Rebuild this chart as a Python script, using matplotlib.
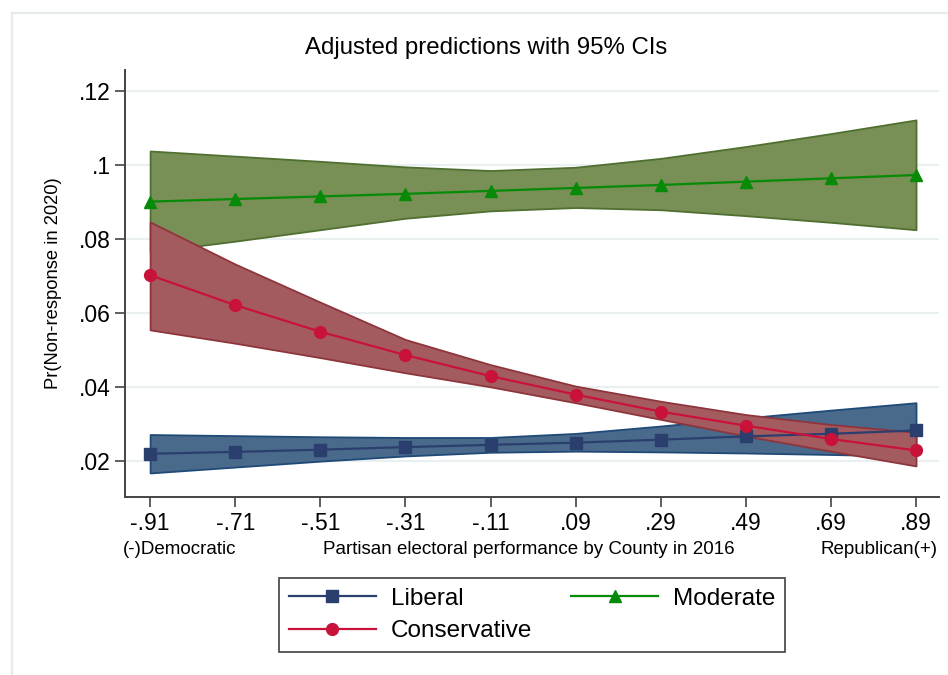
import matplotlib
matplotlib.use("Agg")
import matplotlib.pyplot as plt
from matplotlib.lines import Line2D
import numpy as np

plt.rcParams['font.family'] = ['Liberation Sans', 'DejaVu Sans']

# partisan performance values (x axis)
xVals = [-0.91, -0.71, -0.51, -0.31, -0.11, 0.09, 0.29, 0.49, 0.69, 0.89]
xLabels = ['-.91', '-.71', '-.51', '-.31', '-.11', '.09', '.29', '.49', '.69', '.89']

# predicted probabilities and 95% CIs
liberal = [0.0219, 0.0224, 0.0230, 0.0237, 0.0243, 0.0249, 0.0257, 0.0266, 0.0273, 0.0282]
liberalLo = [0.0167, 0.0183, 0.0199, 0.0213, 0.0223, 0.0226, 0.0224, 0.0221, 0.0217, 0.0212]
liberalHi = [0.0271, 0.0268, 0.0265, 0.0263, 0.0263, 0.0274, 0.0294, 0.0316, 0.0337, 0.0357]

moderate = [0.0901, 0.0908, 0.0915, 0.0922, 0.0930, 0.0938, 0.0946, 0.0955, 0.0964, 0.0973]
moderateLo = [0.0765, 0.0794, 0.0825, 0.0856, 0.0876, 0.0885, 0.0879, 0.0863, 0.0845, 0.0825]
moderateHi = [0.1038, 0.1024, 0.1010, 0.0995, 0.0985, 0.0994, 0.1018, 0.1050, 0.1085, 0.1122]

conservative = [0.0702, 0.0621, 0.0549, 0.0486, 0.0429, 0.0379, 0.0333, 0.0295, 0.0259, 0.0228]
conservativeLo = [0.0554, 0.0518, 0.0479, 0.0438, 0.0400, 0.0357, 0.0312, 0.0267, 0.0226, 0.0186]
conservativeHi = [0.0846, 0.0732, 0.0629, 0.0528, 0.0460, 0.0402, 0.0361, 0.0325, 0.0298, 0.0277]

yTicks = [0.02, 0.04, 0.06, 0.08, 0.10, 0.12]
yLabels = ['.02', '.04', '.06', '.08', '.1', '.12']

fig = plt.figure(figsize=(9.48, 6.75), dpi=100)
ax = fig.add_axes([125/948, 1-497/675, (939-125)/948, (497-70)/675])

# outer graph-region frame (light)
fig.add_artist(Line2D([12/948, 12/948], [0, 1-13/675], color='#e4ecee', lw=1.6))
fig.add_artist(Line2D([12/948, 1], [1-13/675, 1-13/675], color='#e4ecee', lw=1.6))

# CI areas first
ax.fill_between(xVals, liberalLo, liberalHi, facecolor='#4a6a8c', edgecolor='#1f4a78', lw=1.3, zorder=2)
ax.fill_between(xVals, moderateLo, moderateHi, facecolor='#788f55', edgecolor='#4f7030', lw=1.3, zorder=2)
ax.fill_between(xVals, conservativeLo, conservativeHi, facecolor='#a45b60', edgecolor='#8e353c', lw=1.3, zorder=2)

# prediction lines
ax.plot(xVals, liberal, '-s', color='#2b3f6e', ms=8, lw=1.6, zorder=3, label='Liberal')
ax.plot(xVals, conservative, '-o', color='#c8123a', ms=8.5, lw=1.6, zorder=3, label='Conservative')
ax.plot(xVals, moderate, '-^', color='#078a07', ms=8.5, lw=1.6, zorder=3, label='Moderate')

ax.set_xlim(-0.969, 0.944)
ax.set_ylim(0.0102, 0.1257)
ax.set_xticks(xVals)
ax.set_xticklabels(xLabels)
ax.set_yticks(yTicks)
ax.set_yticklabels(yLabels)
ax.tick_params(axis='both', direction='out', length=7, width=1.1, labelsize=16.5, color='#333333')
ax.tick_params(axis='y', pad=3)
ax.tick_params(axis='x', pad=4)
ax.grid(axis='y', color='#e8f0f2', lw=1.5, zorder=0)
ax.set_axisbelow(True)

for s in ['top', 'right']:
    ax.spines[s].set_visible(False)
for s in ['left', 'bottom']:
    ax.spines[s].set_color('#444444')
    ax.spines[s].set_linewidth(1.4)

ax.set_ylabel('Pr(Non-response in 2020)', fontsize=13.2)
ax.yaxis.set_label_coords((62-125)/814, 0.5)

fig.text(486/948, 1-48/675, 'Adjusted predictions with 95% CIs', fontsize=17.3, ha='center', va='center')
fig.text(123/948, 1-550/675, '(-)Democratic', fontsize=13.5, ha='left', va='center')
fig.text(529/948, 1-550/675, 'Partisan electoral performance by County in 2016', fontsize=13.5, ha='center', va='center')
fig.text(937/948, 1-550/675, 'Republican(+)', fontsize=13.5, ha='right', va='center')

leg = fig.legend(loc='center', bbox_to_anchor=(532/948, 1-615/675), ncol=2, fontsize=17.5,
                 handlelength=3.6, handletextpad=0.6, columnspacing=1.6, labelspacing=0.42,
                 frameon=True, fancybox=False, edgecolor='#222222', borderpad=0.4)
leg.get_frame().set_linewidth(1.3)

fig.savefig('out.png', dpi=100)
